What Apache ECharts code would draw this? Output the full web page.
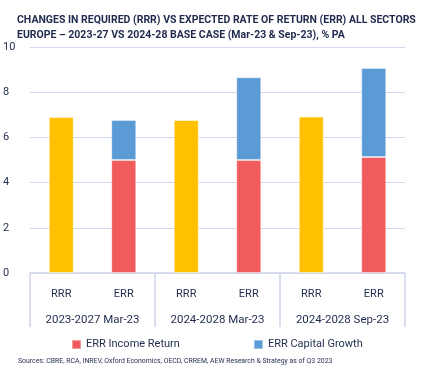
<!DOCTYPE html>
<html>
<head>
<meta charset="utf-8">
<script src="https://cdn.jsdelivr.net/npm/echarts@6/dist/echarts.min.js"></script>
<style>
  html, body { margin: 0; padding: 0; background: #fff; }
  #chart { width: 425px; height: 375px; }
</style>
</head>
<body>
<div id="chart"></div>
<script>
// data
var barLabels = ['RRR', 'ERR', 'RRR', 'ERR', 'RRR', 'ERR']
var groupLabels = ['2023-2027 Mar-23', '2024-2028 Mar-23', '2024-2028 Sep-23']
var rrr = [6.9, '-', 6.77, '-', 6.92, '-']
var incomeReturn = ['-', 5.0, '-', 5.0, '-', 5.13]
var capitalGrowth = ['-', 1.77, '-', 3.66, '-', 3.94]

var navy = '#1f2a4d'
var font = '"Roboto", sans-serif'

var chart = echarts.init(document.getElementById('chart'))
chart.setOption({
  animation: false,
  textStyle: { fontFamily: font, color: navy },
  title: {
    text: 'CHANGES IN REQUIRED (RRR) VS EXPECTED RATE OF RETURN (ERR) ALL SECTORS\nEUROPE \u2013 2023-27 VS 2024-28 BASE CASE (Mar-23 & Sep-23), % PA',
    left: 12,
    top: 8,
    textStyle: { fontFamily: font, fontSize: 10.5, fontWeight: 'bold', color: navy, lineHeight: 15 }
  },
  grid: { left: 25, right: 20, top: 47, bottom: 102 },
  legend: {
    data: ['ERR Income Return', 'ERR Capital Growth'],
    bottom: 20,
    left: 66,
    itemGap: 73,
    itemWidth: 9,
    itemHeight: 9,
    icon: 'rect',
    textStyle: { fontFamily: font, fontSize: 11, color: navy }
  },
  graphic: [{
    type: 'text',
    left: 18,
    top: 358,
    style: {
      text: 'Sources: CBRE, RCA, INREV, Oxford Economics, OECD, CRREM, AEW Research & Strategy as of Q3 2023',
      font: '6.9px ' + font,
      fill: navy
    }
  }],
  xAxis: [{
    type: 'category',
    data: barLabels,
    axisLine: { lineStyle: { color: '#ced3ea', width: 1.5 } },
    axisTick: { show: false },
    axisLabel: { color: navy, fontSize: 11, margin: 16 }
  }, {
    type: 'category',
    data: groupLabels,
    position: 'bottom',
    axisLine: { show: false },
    axisTick: { show: true, alignWithLabel: false, length: 54, lineStyle: { color: '#ced3ea', width: 1.5 } },
    axisLabel: { color: navy, fontSize: 11.5, margin: 41 }
  }],
  yAxis: {
    type: 'value',
    min: 0,
    max: 10,
    interval: 2,
    axisLine: { show: false },
    axisTick: { show: false },
    axisLabel: { color: navy, fontSize: 11, margin: 13, align: 'left', padding: [0, 0, 0, -14] },
    splitLine: { lineStyle: { color: '#d3d8ec', width: 1 } }
  },
  series: [{
    name: 'RRR',
    type: 'bar',
    stack: 'total',
    barWidth: 25,
    data: rrr,
    itemStyle: { color: '#ffc000', borderColor: 'rgba(255,255,255,0.5)', borderWidth: 1 }
  }, {
    name: 'ERR Income Return',
    type: 'bar',
    stack: 'total',
    barWidth: 25,
    data: incomeReturn,
    itemStyle: { color: '#f05b5c', borderColor: 'rgba(255,255,255,0.4)', borderWidth: 1 }
  }, {
    name: 'ERR Capital Growth',
    type: 'bar',
    stack: 'total',
    barWidth: 25,
    data: capitalGrowth,
    itemStyle: { color: '#5b9bd5', borderColor: 'rgba(255,255,255,0.4)', borderWidth: 1 }
  }]
})
</script>
</body>
</html>
